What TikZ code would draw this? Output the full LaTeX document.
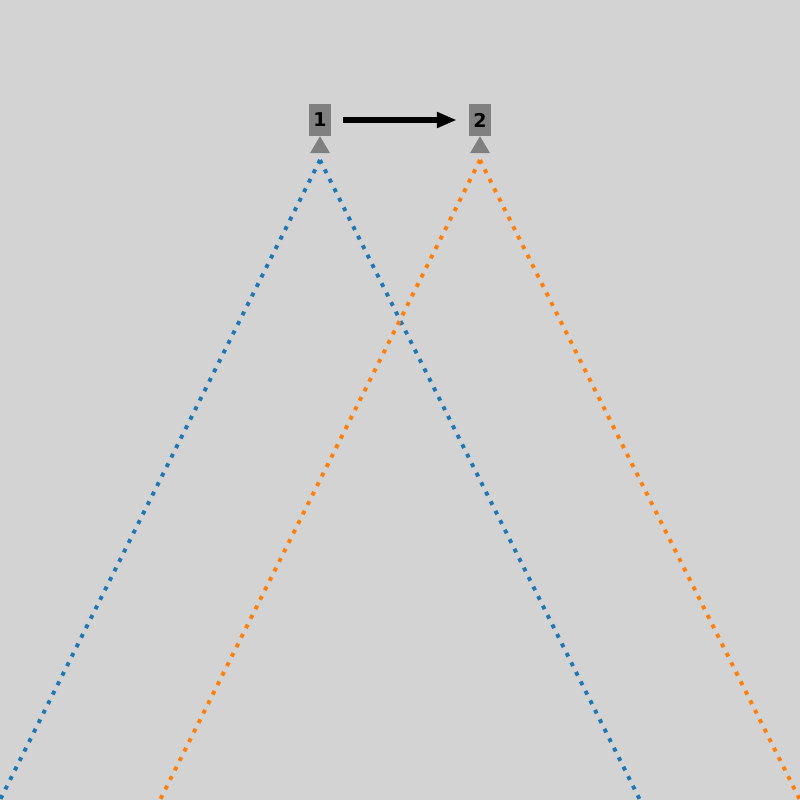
\documentclass[tikz,border=0pt]{standalone}
\usepackage{fontspec}
\setmainfont{DejaVu Sans}
\usetikzlibrary{arrows.meta}
\definecolor{bg}{HTML}{D3D3D3}
\definecolor{tabblue}{HTML}{1F77B4}
\definecolor{taborange}{HTML}{FF7F0E}
\definecolor{boxgray}{HTML}{808080}
\begin{document}
\begin{tikzpicture}[x=1pt,y=-1pt,
  box/.style={fill=boxgray,minimum width=22pt,minimum height=32pt,inner sep=0pt,
    font=\fontsize{19}{19}\selectfont\bfseries,text=black},
  ray/.style={line width=4pt,dash pattern=on 4pt off 6.6pt},
  link/.style={line width=6pt,-{Triangle[length=20pt,width=15pt]},shorten <=12pt,shorten >=12pt}]
\fill[bg] (0,0) rectangle (800,800);
\useasboundingbox (0,0) rectangle (800,800);
\clip (0,0) rectangle (800,800);
\node[box] (n1) at (320,120) {1};
\node[box] (n2) at (480,120) {2};
\fill[boxgray] (n1.south) -- ++(10,17) -- ++(-20,0) -- cycle;
\fill[boxgray] (n2.south) -- ++(10,17) -- ++(-20,0) -- cycle;
\draw[link] (n1) -- (n2);
\coordinate (a1) at (320,160);
\coordinate (a2) at (480,160);
\coordinate (b1l) at (0,800);
\coordinate (b1r) at (640,800);
\coordinate (b2l) at (160,800);
\coordinate (b2r) at (800,800);
\draw[ray,tabblue] (a1) -- (b1l);
\draw[ray,tabblue] (a1) -- (b1r);
\draw[ray,taborange] (a2) -- (b2l);
\draw[ray,taborange] (a2) -- (b2r);
\end{tikzpicture}
\end{document}
